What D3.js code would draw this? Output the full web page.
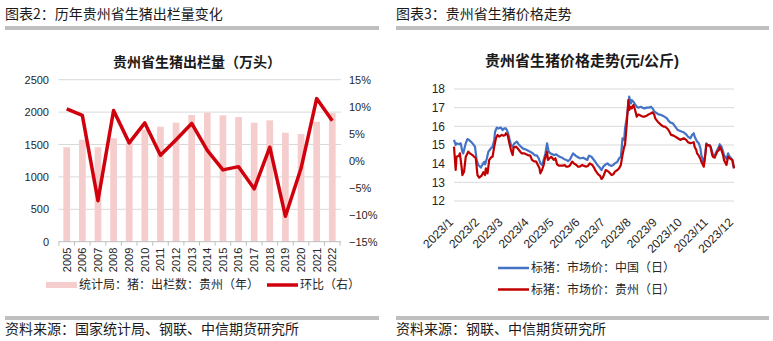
<!DOCTYPE html>
<html><head><meta charset="utf-8">
<script src="https://cdn.jsdelivr.net/npm/d3@7"></script>
<style>
html,body{margin:0;padding:0;background:#fff;}
svg{display:block;font-family:"Liberation Sans",Arial,"Noto Sans CJK SC",sans-serif;}
</style></head><body>
<svg id="c" width="773" height="341"></svg>
<script>
// ---------- Left chart data ----------
const years = ["2005","2006","2007","2008","2009","2010","2011","2012","2013","2014","2015","2016","2017","2018","2019","2020","2021","2022"];
const slaughter = [1457,1574,1457,1596,1530,1730,1775,1836,1955,1991,1950,1924,1836,1873,1682,1662,1852,1985];
const yoy = [9.6,8.4,-7.4,9.3,3.3,7.0,1.0,3.9,6.9,1.9,-1.7,-1.1,-5.2,2.5,-10.3,-1.4,11.5,7.4];
const leftTicks = [0,500,1000,1500,2000,2500];
const rightTicks = [-15,-10,-5,0,5,10,15];

// ---------- Right chart data ----------
const chinaDates = ["01-01","01-03","01-04","01-07","01-09","01-11","01-12","01-15","01-17","01-19","01-22","01-24","01-26","01-28","01-30","02-02","02-04","02-06","02-07","02-09","02-11","02-14","02-16","02-18","02-19","02-21","02-23","02-26","02-28","03-02","03-04","03-06","03-08","03-10","03-12","03-14","03-17","03-19","03-22","03-24","03-26","03-29","03-31","04-02","04-05","04-07","04-10","04-12","04-14","04-16","04-18","04-20","04-22","04-24","04-26","04-28","04-30","05-03","05-05","05-07","05-10","05-12","05-15","05-17","05-19","05-22","05-23","05-26","05-28","05-31","06-02","06-04","06-07","06-09","06-11","06-14","06-16","06-19","06-21","06-23","06-26","06-28","07-01","07-03","07-05","07-08","07-10","07-12","07-15","07-17","07-19","07-20","07-21","07-23","07-24","07-26","07-28","07-29","07-31","08-01","08-03","08-05","08-07","08-09","08-12","08-14","08-16","08-19","08-21","08-24","08-26","08-28","08-31","09-02","09-05","09-07","09-09","09-12","09-14","09-16","09-19","09-21","09-25","09-28","09-30","10-02","10-05","10-07","10-10","10-12","10-14","10-15","10-17","10-18","10-20","10-22","10-23","10-25","10-26","10-28","10-29","10-31","11-02","11-03","11-05","11-06","11-08","11-10","11-11","11-13","11-14","11-16","11-18","11-19","11-21","11-22","11-24","11-25","11-27","11-29","11-30","12-01"];
const chinaPrice = [15.27,15.0,15.09,15.04,15.09,14.64,14.55,15.09,15.32,15.27,15.14,15.04,14.91,14.2,13.93,13.79,13.96,14.1,13.96,14.25,14.64,14.82,14.91,15.27,15.71,15.93,15.89,15.93,15.8,15.89,15.89,15.71,15.36,15.0,14.91,15.09,15.18,15.04,14.91,14.82,14.79,14.73,14.68,14.64,14.55,14.46,14.43,14.29,14.02,13.93,14.2,14.55,15.09,14.64,14.55,14.52,14.46,14.5,14.43,14.37,14.32,14.25,14.2,14.14,14.2,14.46,14.55,14.43,14.37,14.29,14.29,14.32,14.25,14.2,14.43,14.37,14.25,14.07,13.93,13.84,13.66,13.84,13.96,14.02,13.93,13.88,13.93,14.02,14.11,14.29,14.37,14.82,15.36,15.27,15.89,16.43,17.14,17.59,17.23,17.41,17.32,17.18,17.05,17.0,17.05,17.0,16.96,17.0,17.0,17.05,16.96,16.79,16.7,16.64,16.61,16.57,16.52,16.43,16.29,16.21,16.16,16.04,15.8,15.75,15.71,15.68,15.57,15.45,15.36,15.54,15.63,15.45,15.27,15.18,15.09,14.82,14.46,14.2,13.96,14.64,15.09,14.96,15.0,14.91,14.64,14.46,14.43,14.64,14.73,14.91,15.04,14.91,14.64,14.46,14.32,14.25,14.55,14.43,14.32,14.2,13.93,13.75];
const guizhouDates = ["01-01","01-03","01-04","01-07","01-08","01-10","01-11","01-13","01-15","01-18","01-20","01-23","01-25","01-27","01-29","01-31","02-03","02-05","02-07","02-08","02-10","02-12","02-15","02-16","02-18","02-20","02-22","02-24","02-27","03-01","03-03","03-04","03-06","03-08","03-10","03-12","03-13","03-16","03-18","03-21","03-23","03-26","03-28","03-30","04-02","04-04","04-06","04-09","04-11","04-13","04-14","04-16","04-18","04-19","04-22","04-23","04-25","04-27","04-30","05-02","05-04","05-06","05-08","05-11","05-13","05-15","05-17","05-19","05-22","05-24","05-27","05-29","05-31","06-03","06-05","06-08","06-10","06-12","06-15","06-17","06-19","06-22","06-24","06-26","06-28","07-01","07-03","07-05","07-08","07-10","07-12","07-15","07-17","07-19","07-20","07-21","07-23","07-24","07-26","07-28","07-29","07-31","08-01","08-03","08-05","08-07","08-09","08-12","08-14","08-16","08-19","08-21","08-24","08-26","08-28","08-29","09-01","09-03","09-05","09-08","09-10","09-13","09-15","09-17","09-20","09-22","09-25","09-28","09-30","10-02","10-05","10-07","10-10","10-12","10-14","10-15","10-17","10-18","10-20","10-22","10-23","10-25","10-26","10-28","10-29","10-31","11-02","11-03","11-05","11-06","11-08","11-10","11-11","11-13","11-14","11-16","11-18","11-19","11-21","11-22","11-24","11-25","11-27","11-29","11-30","12-01"];
const guizhouPrice = [14.91,13.66,14.37,14.43,14.55,13.84,13.39,13.57,14.37,14.64,14.55,14.46,14.37,14.29,13.39,13.25,13.36,13.54,13.39,13.75,13.48,14.2,14.37,14.37,14.91,15.36,15.54,15.45,15.54,15.5,15.54,15.63,15.54,15.09,14.73,14.46,14.86,14.91,14.82,14.64,14.55,14.55,14.5,14.46,14.43,14.2,14.14,14.11,13.93,13.75,13.48,13.66,13.93,14.2,14.64,14.2,14.29,14.37,14.2,14.29,13.96,13.89,13.89,13.89,13.93,13.84,13.84,13.89,14.11,14.02,13.93,13.84,13.84,13.93,13.88,13.84,13.89,14.02,13.93,13.79,13.61,13.43,13.36,13.18,13.3,13.66,13.61,13.54,13.39,13.43,13.57,13.66,13.75,13.93,14.2,14.46,14.91,15.0,16.07,17.41,16.88,17.05,16.96,17.14,16.88,16.52,16.64,16.57,16.52,16.52,16.57,16.64,16.7,16.75,16.61,16.43,16.25,16.16,16.07,15.98,15.98,15.86,15.71,15.54,15.5,15.45,15.36,15.27,15.32,15.36,15.27,15.15,15.1,15.12,15.15,14.91,14.73,14.55,14.43,14.25,14.11,13.93,13.84,14.55,15.04,15.0,14.96,14.91,14.46,14.37,14.32,14.55,14.64,14.73,14.91,14.73,14.46,14.2,14.02,13.93,14.37,14.32,14.25,14.2,14.02,13.75];
const priceTicks = [12,13,14,15,16,17,18];
const monthLabels = ["2023/1","2023/2","2023/3","2023/4","2023/5","2023/6","2023/7","2023/8","2023/9","2023/10","2023/11","2023/12"];

const svg = d3.select("#c");
const TXT = "#262626";
const GRID = "#d9d9d9";
const NUMFONT = "'Liberation Sans',Arial,sans-serif";
const CJKFONT = "'Noto Sans CJK SC',sans-serif";

// ---------- Panel frames ----------
function panel(x0, x1, header, footer) {
  svg.append("text").attr("x", x0).attr("y", 19).attr("font-size", 14)
    .attr("font-family", CJKFONT).attr("fill", "#1a1a1a").text(header);
  svg.append("rect").attr("x", x0).attr("y", 26).attr("width", x1 - x0).attr("height", 4).attr("fill", "#bfbfbf");
  svg.append("rect").attr("x", x0).attr("y", 316).attr("width", x1 - x0).attr("height", 4).attr("fill", "#bfbfbf");
  svg.append("text").attr("x", x0).attr("y", 334).attr("font-size", 14)
    .attr("font-family", CJKFONT).attr("fill", "#1a1a1a").text(footer);
}
panel(5, 379, "图表2：历年贵州省生猪出栏量变化", "资料来源：国家统计局、钢联、中信期货研究所");
panel(396, 769, "图表3：贵州省生猪价格走势", "资料来源：钢联、中信期货研究所");

// ---------- Left chart ----------
const L = svg.append("g");
const xB = d3.scaleBand().domain(years).range([58.9, 340.1]).paddingInner(0.57).paddingOuter(0.285);
const yL = d3.scaleLinear().domain([0, 2500]).range([241.7, 79.7]);
const yR = d3.scaleLinear().domain([-15, 15]).range([241.7, 79.7]);

L.append("text").attr("x", 197).attr("y", 67).attr("text-anchor", "middle")
  .attr("font-size", 14).attr("font-weight", "bold").attr("fill", "#1a1a1a").text("贵州省生猪出栏量（万头）");

L.selectAll("line.grid").data(leftTicks.filter(d => d > 0)).join("line")
  .attr("x1", 58.3).attr("x2", 341).attr("y1", d => yL(d)).attr("y2", d => yL(d))
  .attr("stroke", GRID).attr("stroke-width", 1);

L.selectAll("rect.bar").data(years).join("rect")
  .attr("x", d => xB(d)).attr("width", xB.bandwidth())
  .attr("y", (d, i) => yL(slaughter[i])).attr("height", (d, i) => yL(0) - yL(slaughter[i]))
  .attr("fill", "#f5cdcd");

// x axis line + boundary ticks
L.append("line").attr("x1", 58.3).attr("x2", 341).attr("y1", yL(0)).attr("y2", yL(0)).attr("stroke", "#bfbfbf");
const step = xB.step();
const bStart = xB(years[0]) - xB.paddingInner() * step / 2;
L.selectAll("line.tk").data(d3.range(years.length + 1)).join("line")
  .attr("x1", i => bStart + i * step).attr("x2", i => bStart + i * step)
  .attr("y1", yL(0)).attr("y2", yL(0) + 4).attr("stroke", "#bfbfbf");

const axL = L.append("g").attr("transform", "translate(58,0)")
  .call(d3.axisLeft(yL).tickValues(leftTicks).tickSize(0).tickPadding(9).tickFormat(d3.format("d")));
axL.select(".domain").remove();
axL.selectAll("text").attr("font-size", 11).attr("fill", TXT).attr("font-family", NUMFONT);

const axR = L.append("g").attr("transform", "translate(341,0)")
  .call(d3.axisRight(yR).tickValues(rightTicks).tickSize(0).tickPadding(8).tickFormat(d => d3.format("d")(d) + "%"));
axR.select(".domain").remove();
axR.selectAll("text").attr("font-size", 11).attr("fill", TXT).attr("font-family", NUMFONT);

const axB = L.append("g").attr("transform", `translate(0,${yL(0)})`)
  .call(d3.axisBottom(xB).tickSize(0));
axB.select(".domain").remove();
axB.selectAll("text").attr("font-size", 11).attr("fill", TXT)
  .attr("font-family", NUMFONT)
  .attr("text-anchor", "end").attr("transform", "rotate(-90)")
  .attr("x", -6).attr("y", 0).attr("dy", "0.35em");

const lineL = d3.line().x((d, i) => xB(years[i]) + xB.bandwidth() / 2).y(d => yR(d));
L.append("path").datum(yoy).attr("d", lineL).attr("fill", "none")
  .attr("stroke", "#d0000c").attr("stroke-width", 3.5).attr("stroke-linejoin", "round");

// legend
L.append("rect").attr("x", 46).attr("y", 282).attr("width", 31).attr("height", 6).attr("fill", "#f5cdcd");
L.append("text").attr("x", 79).attr("y", 285).attr("dy", "0.36em").attr("font-size", 12)
  .attr("font-family", CJKFONT).attr("fill", TXT).text("统计局：猪：出栏数：贵州（年）");
L.append("line").attr("x1", 267).attr("x2", 298).attr("y1", 285).attr("y2", 285)
  .attr("stroke", "#d0000c").attr("stroke-width", 3.5);
L.append("text").attr("x", 300).attr("y", 285).attr("dy", "0.36em").attr("font-size", 12)
  .attr("font-family", CJKFONT).attr("fill", TXT).text("环比（右）");

// ---------- Right chart ----------
const R = svg.append("g");
const parse = d3.timeParse("%Y-%m-%d");
const xT = d3.scaleTime().domain([new Date(2023, 0, 1), new Date(2023, 11, 1)]).range([454, 734]);
const yP = d3.scaleLinear().domain([12, 18]).range([201, 89]);

R.append("text").attr("x", 582).attr("y", 66).attr("text-anchor", "middle")
  .attr("font-size", 15).attr("font-weight", "bold").attr("fill", "#1a1a1a").text("贵州省生猪价格走势(元/公斤)");

R.selectAll("line.grid").data(priceTicks).join("line")
  .attr("x1", 454).attr("x2", 734).attr("y1", d => yP(d)).attr("y2", d => yP(d))
  .attr("stroke", GRID).attr("stroke-width", 1);

const axP = R.append("g").attr("transform", "translate(454,0)")
  .call(d3.axisLeft(yP).tickValues(priceTicks).tickSize(0).tickPadding(9).tickFormat(d3.format("d")));
axP.select(".domain").remove();
axP.selectAll("text").attr("font-size", 12).attr("fill", TXT).attr("font-family", NUMFONT);

const monthDates = d3.timeMonth.range(new Date(2023, 0, 1), new Date(2023, 11, 2));
R.selectAll("text.mlab").data(monthLabels).join("text")
  .attr("transform", (d, i) => `translate(${xT(monthDates[i]) - 3},${yP(12) + 19}) rotate(-45)`)
  .attr("text-anchor", "end").attr("dy", "0.35em")
  .attr("font-size", 12).attr("fill", TXT).attr("font-family", NUMFONT)
  .text(d => d);

const china = chinaDates.map((d, i) => ({ date: parse("2023-" + d), v: chinaPrice[i] }));
const guizhou = guizhouDates.map((d, i) => ({ date: parse("2023-" + d), v: guizhouPrice[i] }));
const lineP = d3.line().x(d => xT(d.date)).y(d => yP(d.v));
R.append("path").datum(china).attr("d", lineP).attr("fill", "none")
  .attr("stroke", "#4472c4").attr("stroke-width", 2.2).attr("stroke-linejoin", "round");
R.append("path").datum(guizhou).attr("d", lineP).attr("fill", "none")
  .attr("stroke", "#c00000").attr("stroke-width", 2.2).attr("stroke-linejoin", "round");

// legend
const legR = [{ c: "#4472c4", t: "标猪：市场价：中国（日）", y: 268 }, { c: "#c00000", t: "标猪：市场价：贵州（日）", y: 289.5 }];
legR.forEach(l => {
  R.append("line").attr("x1", 498).attr("x2", 529).attr("y1", l.y).attr("y2", l.y)
    .attr("stroke", l.c).attr("stroke-width", 2.5);
  R.append("text").attr("x", 531).attr("y", l.y).attr("dy", "0.36em").attr("font-size", 12)
    .attr("font-family", CJKFONT).attr("fill", TXT).text(l.t);
});
</script>
</body></html>
